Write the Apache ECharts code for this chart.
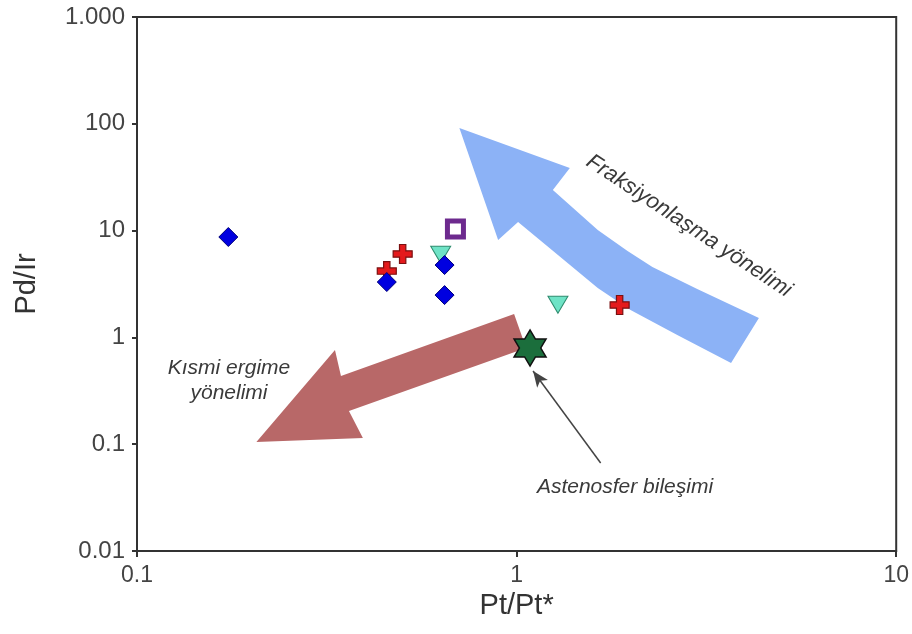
<!DOCTYPE html>
<html><head><meta charset="utf-8">
<script src="https://cdn.jsdelivr.net/npm/echarts@6/dist/echarts.min.js"></script>
<style>html,body{margin:0;padding:0;background:#fff}#c{width:912px;height:634px}</style>
</head><body><div id="c"></div>
<script>
// ---- data (x = Pt/Pt*, y = Pd/Ir) ----
const xTickLabels = ['0.1', '1', '10'];
const yTickLabels = ['0.01', '0.1', '1', '10', '100', '1.000'];
const diamonds  = [[0.174, 8.71], [0.455, 3.30], [0.646, 4.76], [0.646, 2.49]];
const pluses    = [[0.455, 4.18], [0.501, 6.04], [1.868, 2.01]];
const triangles = [[0.631, 5.95], [1.285, 2.02]];
const squares   = [[0.690, 10.35]];
const stars     = [[1.085, 0.796]];
// annotation arrows, vertices in data units
const fracArrow = [[0.7067, 91.3], [1.381, 38.6], [1.246, 24.0], [1.636, 10.13], [1.960, 6.44], [2.279, 4.56],
  [2.991, 2.84], [4.348, 1.519], [3.672, 0.576], [2.650, 1.053], [1.996, 1.805], [1.636, 2.90],
  [1.285, 5.91], [1.009, 12.04], [0.894, 8.17]];
const meltArrow = [[0.2063, 0.1048], [0.3323, 0.762], [0.3446, 0.435], [0.9849, 1.656], [1.059, 0.796],
  [0.3617, 0.2046], [0.3936, 0.1143]];
const pointerLine = [[1.665, 0.0667], [1.105, 0.4844]];

const TXT = '#333';
const FONT = 'Liberation Sans, Arial, sans-serif';
function fmt(labels, base) {
  return function (v) { const i = Math.round(Math.log10(v)) - base; return labels[i] !== undefined ? labels[i] : ''; };
}
function polySeries(pts, color) {
  return {
    type: 'custom', coordinateSystem: 'cartesian2d', data: [[1, 1]], silent: true, z: 1,
    renderItem: function (params, api) {
      return { type: 'polygon', shape: { points: pts.map(p => api.coord(p)) }, style: { fill: color } };
    }
  };
}
const plusPath = 'path://M-1,-3 L1,-3 L1,-1 L3,-1 L3,1 L1,1 L1,3 L-1,3 L-1,1 L-3,1 L-3,-1 L-1,-1 Z';
const starPath = 'path://M0,-10 L2.887,-5 L8.66,-5 L5.77,0 L8.66,5 L2.887,5 L0,10 L-2.887,5 L-8.66,5 L-5.77,0 L-8.66,-5 L-2.887,-5 Z';

const chart = echarts.init(document.getElementById('c'));
chart.setOption({
  animation: false,
  backgroundColor: '#fff',
  grid: { left: 137, right: 11, top: 17, bottom: 83, show: true, borderColor: '#333', borderWidth: 2 },
  xAxis: {
    type: 'log', logBase: 10, min: 0.1, max: 10,
    name: 'Pt/Pt*', nameLocation: 'middle', nameGap: 40,
    nameTextStyle: { fontSize: 29, color: TXT, fontFamily: FONT },
    axisLine: { lineStyle: { color: '#333', width: 2 } },
    axisTick: { show: true, length: 6, lineStyle: { color: '#333', width: 2 } },
    minorTick: { show: false },
    splitLine: { show: false },
    axisLabel: { fontSize: 23, color: '#444', fontFamily: FONT, margin: 13, formatter: fmt(xTickLabels, -1) }
  },
  yAxis: {
    type: 'log', logBase: 10, min: 0.01, max: 1000,
    name: 'Pd/Ir', nameLocation: 'middle', nameGap: 96,
    nameTextStyle: { fontSize: 29, color: TXT, fontFamily: FONT },
    axisLine: { lineStyle: { color: '#333', width: 2 } },
    axisTick: { show: true, length: 5, lineStyle: { color: '#333', width: 2 } },
    splitLine: { show: false },
    axisLabel: { fontSize: 24, color: '#444', fontFamily: FONT, margin: 12, formatter: fmt(yTickLabels, -2) }
  },
  graphic: [
    { type: 'text', x: 229, y: 381, silent: true,
      style: { text: 'Kısmi ergime\nyönelimi', fill: '#3a3a3a', font: 'italic 21px ' + FONT, align: 'center', verticalAlign: 'middle', lineHeight: 25 } },
    { type: 'text', x: 625, y: 487, silent: true,
      style: { text: 'Astenosfer bileşimi', fill: '#3a3a3a', font: 'italic 21px ' + FONT, align: 'center', verticalAlign: 'middle' } },
    { type: 'text', x: 689, y: 226, rotation: -0.583, silent: true,
      style: { text: 'Fraksiyonlaşma yönelimi', fill: '#3a3a3a', font: 'italic 22px ' + FONT, align: 'center', verticalAlign: 'middle' } }
  ],
  series: [
    polySeries(fracArrow, '#8cb2f6'),
    polySeries(meltArrow, '#b86868'),
    { type: 'scatter', data: pluses, symbol: plusPath, symbolSize: 19, z: 3,
      itemStyle: { color: '#e41a1c', borderColor: '#7a1010', borderWidth: 1.2, opacity: 1 } },
    { type: 'scatter', data: triangles, symbol: 'triangle', symbolRotate: 180, symbolSize: [20, 17], z: 3,
      itemStyle: { color: '#6fe3c6', borderColor: '#2e8b6e', borderWidth: 1, opacity: 1 } },
    { type: 'scatter', data: squares, symbol: 'rect', symbolSize: 16, z: 3,
      itemStyle: { color: '#fff', borderColor: '#6d2a8e', borderWidth: 5, opacity: 1 } },
    { type: 'scatter', data: diamonds, symbol: 'diamond', symbolSize: 19, z: 4,
      itemStyle: { color: '#0000e0', borderColor: '#00007a', borderWidth: 1, opacity: 1 } },
    { type: 'scatter', data: stars, symbol: starPath, symbolSize: [32, 36], z: 5,
      itemStyle: { color: '#1b6e3c', borderColor: '#111', borderWidth: 1.5, opacity: 1 },
      markLine: { silent: true, symbol: ['none', 'arrow'], symbolSize: [10, 16], label: { show: false },
        lineStyle: { color: '#444', width: 1.5, type: 'solid', opacity: 1 },
        data: [[{ coord: pointerLine[0] }, { coord: pointerLine[1] }]] } }
  ]
});
</script>
</body></html>
